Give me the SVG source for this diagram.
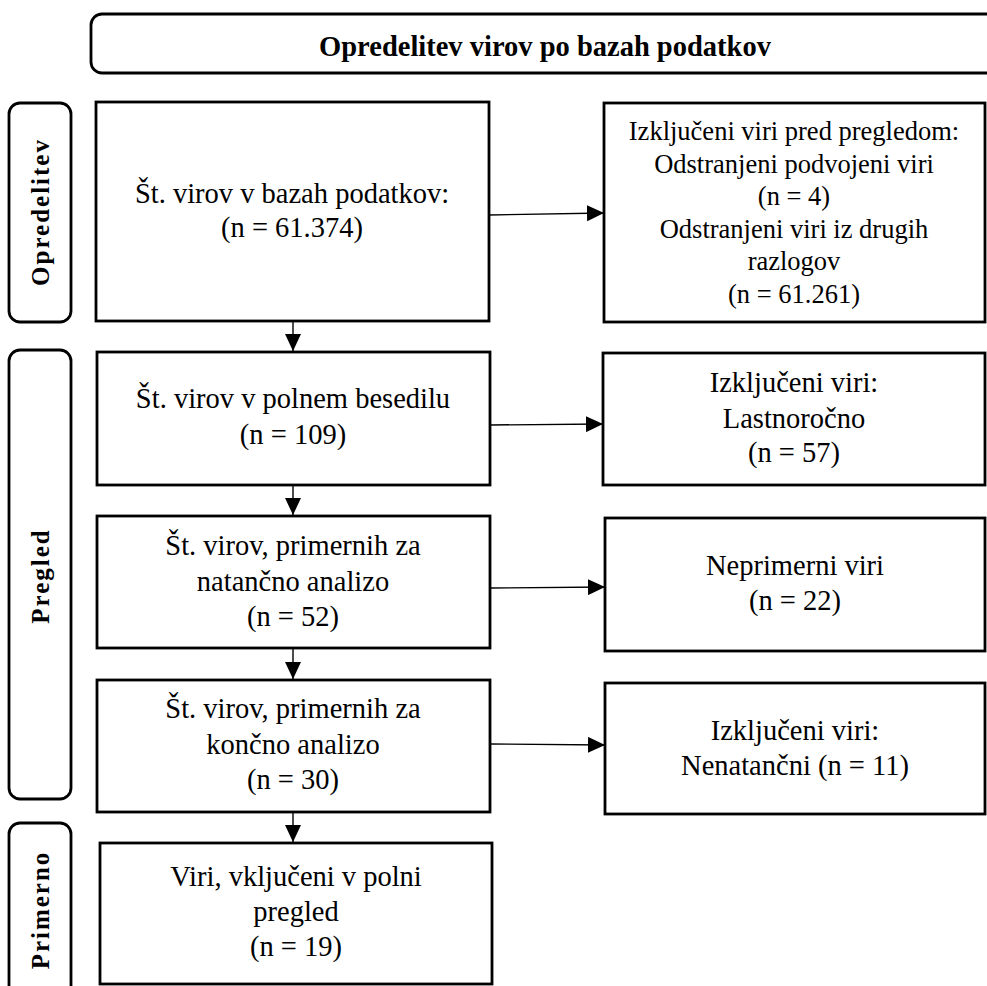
<svg xmlns="http://www.w3.org/2000/svg" width="987" height="986" viewBox="0 0 987 986">
<defs>
<marker id="arr" markerUnits="userSpaceOnUse" markerWidth="18" markerHeight="16" refX="17" refY="8" orient="auto">
<path d="M0,0 L17,8 L0,16 Z" fill="#000"/>
</marker>
<style>
.box{fill:#fff;stroke:#000;stroke-width:2.8}
.lbl{fill:#fff;stroke:#000;stroke-width:2.8}
.t{font-family:"Liberation Serif","Times New Roman",serif;font-size:28.5px;fill:#000;text-anchor:middle}
.ts{font-family:"Liberation Serif","Times New Roman",serif;font-size:26.5px;fill:#000;text-anchor:middle}
.tb{font-family:"Liberation Serif","Times New Roman",serif;font-size:28.5px;font-weight:bold;fill:#000;text-anchor:middle}
.tv{font-family:"Liberation Serif","Times New Roman",serif;font-size:25px;font-weight:bold;letter-spacing:2px;fill:#000;text-anchor:middle}
.c{stroke:#000;stroke-width:1.4;fill:none;marker-end:url(#arr)}
</style>
</defs>
<rect width="987" height="986" fill="#fff"/>

<g id="title">
<rect class="box" x="91" y="14" width="910" height="59" rx="11"/>
<text class="tb" x="545" y="56">Opredelitev virov po bazah podatkov</text>
</g>

<g id="lbl-opredelitev">
<rect class="lbl" x="9" y="103" width="62" height="219" rx="11"/>
<text class="tv" transform="translate(49,212) rotate(-90)">Opredelitev</text>
</g>
<g id="lbl-pregled">
<rect class="lbl" x="9" y="350" width="62" height="449" rx="11"/>
<text class="tv" transform="translate(49,576) rotate(-90)">Pregled</text>
</g>
<g id="lbl-primerno">
<rect class="lbl" x="9" y="823" width="62" height="180" rx="11"/>
<text class="tv" transform="translate(49,910) rotate(-90)">Primerno</text>
</g>

<g id="n1">
<rect class="box" x="96" y="102" width="393" height="219"/>
<text class="t" x="292" y="203">Št. virov v bazah podatkov:</text>
<text class="t" x="292" y="237">(n = 61.374)</text>
</g>
<g id="e1">
<rect class="box" x="604" y="103" width="381" height="219"/>
<text class="ts" x="794" y="140">Izključeni viri pred pregledom:</text>
<text class="ts" x="794" y="172.5">Odstranjeni podvojeni viri</text>
<text class="ts" x="794" y="205">(n = 4)</text>
<text class="ts" x="794" y="237.5">Odstranjeni viri iz drugih</text>
<text class="ts" x="794" y="270">razlogov</text>
<text class="ts" x="794" y="302.5">(n = 61.261)</text>
</g>

<g id="n2">
<rect class="box" x="97" y="352" width="393" height="133"/>
<text class="t" x="293" y="408">Št. virov v polnem besedilu</text>
<text class="t" x="293" y="444">(n = 109)</text>
</g>
<g id="e2">
<rect class="box" x="603" y="353" width="382" height="132"/>
<text class="t" x="794" y="392">Izključeni viri:</text>
<text class="t" x="794" y="428">Lastnoročno</text>
<text class="t" x="794" y="462">(n = 57)</text>
</g>

<g id="n3">
<rect class="box" x="97" y="516" width="393" height="132"/>
<text class="t" x="293" y="555">Št. virov, primernih za</text>
<text class="t" x="293" y="591">natančno analizo</text>
<text class="t" x="293" y="626">(n = 52)</text>
</g>
<g id="e3">
<rect class="box" x="605" y="518" width="380" height="133"/>
<text class="t" x="795" y="575">Neprimerni viri</text>
<text class="t" x="795" y="610">(n = 22)</text>
</g>

<g id="n4">
<rect class="box" x="97" y="680" width="393" height="132"/>
<text class="t" x="293" y="718">Št. virov, primernih za</text>
<text class="t" x="293" y="754">končno analizo</text>
<text class="t" x="293" y="789">(n = 30)</text>
</g>
<g id="e4">
<rect class="box" x="605" y="683" width="380" height="131"/>
<text class="t" x="795" y="740">Izključeni viri:</text>
<text class="t" x="795" y="775">Nenatančni (n = 11)</text>
</g>

<g id="n5">
<rect class="box" x="100" y="843" width="392" height="141"/>
<text class="t" x="296" y="886">Viri, vključeni v polni</text>
<text class="t" x="296" y="921">pregled</text>
<text class="t" x="296" y="956">(n = 19)</text>
</g>

<g id="connectors">
<line class="c" x1="489" y1="215" x2="604" y2="213"/>
<line class="c" x1="490" y1="425" x2="603" y2="424"/>
<line class="c" x1="490" y1="588" x2="605" y2="587"/>
<line class="c" x1="490" y1="744" x2="605" y2="745"/>
<line class="c" x1="293" y1="321" x2="293" y2="351"/>
<line class="c" x1="293" y1="485" x2="293" y2="515"/>
<line class="c" x1="293" y1="648" x2="293" y2="679"/>
<line class="c" x1="293" y1="812" x2="293" y2="842"/>
</g>
</svg>
